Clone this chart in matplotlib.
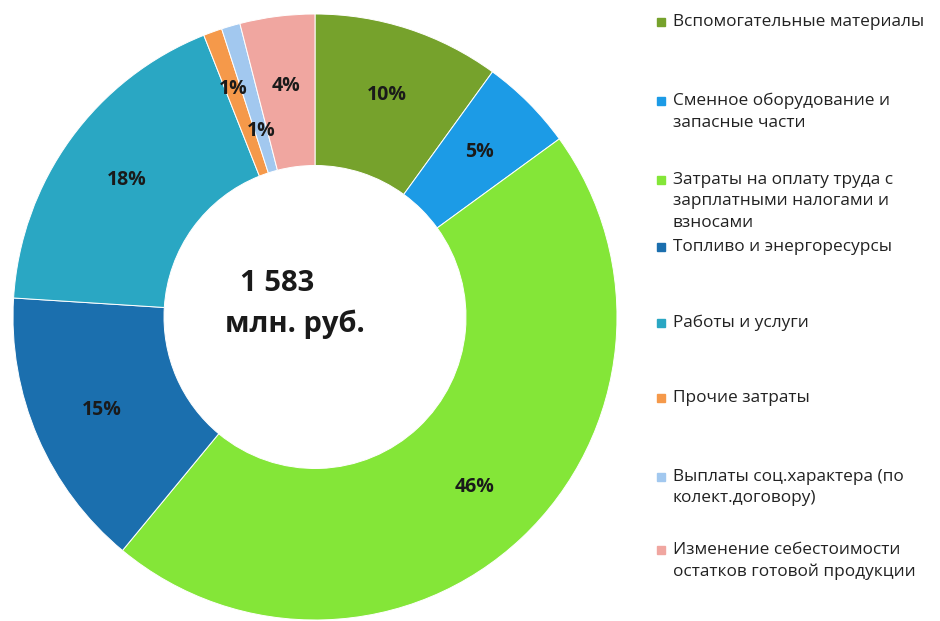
import matplotlib.pyplot as plt
from matplotlib.patches import Rectangle
import numpy as np

plt.rcParams['font.family'] = ['Open Sans', 'DejaVu Sans']

# cost structure, %
categories = ['Вспомогательные материалы',
              'Сменное оборудование и\nзапасные части',
              'Затраты на оплату труда с\nзарплатными налогами и\nвзносами',
              'Топливо и энергоресурсы',
              'Работы и услуги',
              'Прочие затраты',
              'Выплаты соц.характера (по\nколект.договору)',
              'Изменение себестоимости\nостатков готовой продукции']
shares = [10, 5, 46, 15, 18, 1, 1, 4]
colors = ['#76a22c', '#1c9be6', '#84e638', '#1b6fae', '#2aa7c3',
          '#f5994a', '#a2c8ef', '#f0a6a0']
total_label = '1 583'
unit_label = 'млн. руб.'

W, H = 940, 621
fig = plt.figure(figsize=(9.4, 6.21), dpi=100)

# donut
ax = fig.add_axes([13 / W, 1 / H, 604 / W, 606 / H])
wedges, texts, pcts = ax.pie(shares, colors=colors, startangle=90, counterclock=False,
                             autopct='%1.0f%%', pctdistance=0.77,
                             wedgeprops=dict(width=0.5, edgecolor='white', linewidth=0.7),
                             textprops=dict(fontsize=14, fontweight='bold', color='#1a1a1a'))
ax.set_aspect('auto')
ax.set_xlim(-1, 1)
ax.set_ylim(-1, 1)

# push the tiny slice labels apart
for t, k in zip(pcts[5:], [1.04, 0.83]):
    x, y = t.get_position()
    t.set_position((x * k, y * k))

ax.text(-0.125, 0.11, total_label, ha='center', va='center', fontsize=21, fontweight='bold', color='#1a1a1a')
ax.text(-0.065, -0.025, unit_label, ha='center', va='center', fontsize=21, fontweight='bold', color='#1a1a1a')

# legend, laid out by hand
legend_y = [22, 101, 180, 247, 323, 398, 477, 550]
for lab, col, yy in zip(categories, colors, legend_y):
    fig.patches.append(Rectangle((657 / W, 1 - (yy + 4) / H), 8 / W, 8 / H,
                                 transform=fig.transFigure, color=col, figure=fig))
    fig.text(673 / W, 1 - (yy - 8) / H, lab, ha='left', va='top', fontsize=12.4,
             color='#222222', linespacing=1.45)

fig.savefig('out.png', dpi=100)
